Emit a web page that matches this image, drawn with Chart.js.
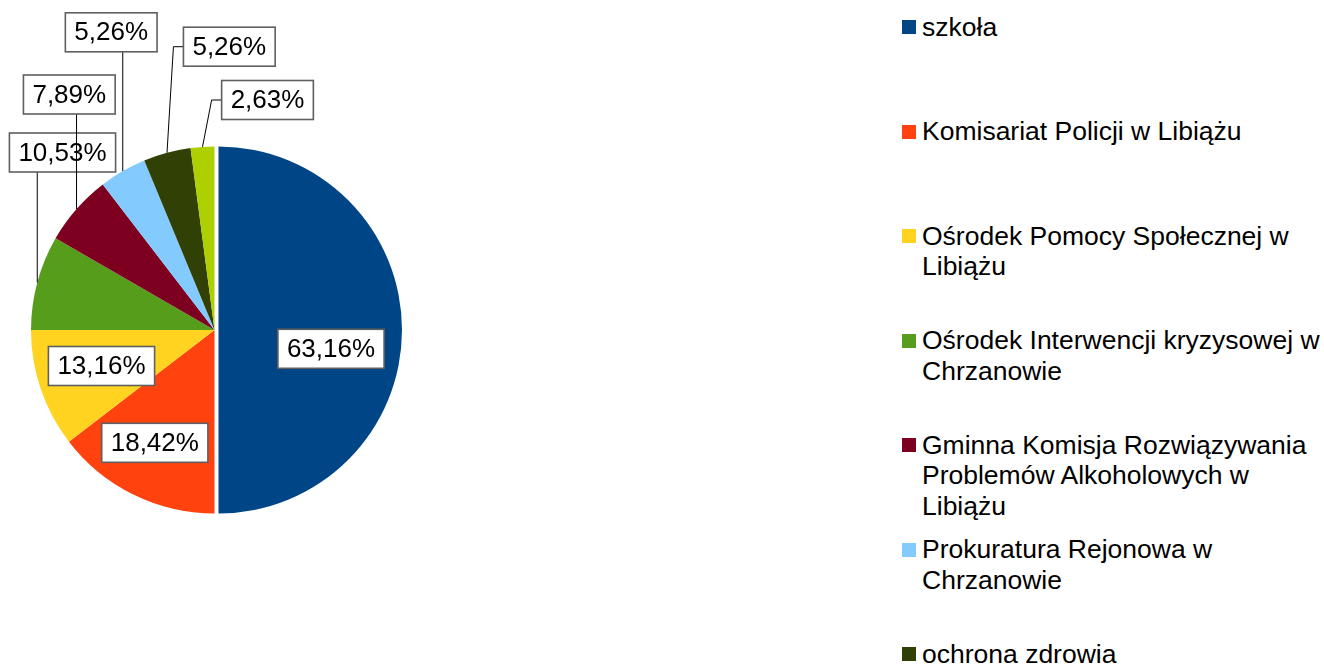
<!DOCTYPE html>
<html lang="pl">
<head>
<meta charset="utf-8">
<title>Wykres kołowy</title>
<script src="https://cdn.jsdelivr.net/npm/chart.js@4.4.1/dist/chart.umd.min.js"></script>
<style>
    html, body { margin: 0; padding: 0; width: 1324px; height: 664px; overflow: hidden; background: #fff; }
    body { font-family: "Liberation Sans", Arial, sans-serif; position: relative; }
    #pieBox { position: absolute; left: 0; top: 0; width: 429px; height: 660px; }
    #legend { position: absolute; left: 902px; top: 0; width: 422px; height: 664px; overflow: hidden; }
    .item { position: absolute; left: 0; display: flex; align-items: flex-start; font-size: 26.5px; line-height: 30.5px; color: #000; white-space: nowrap; }
    .sw { width: 14px; height: 14px; margin-top: 8.5px; margin-right: 6px; flex: none; }
</style>
</head>
<body>
<div id="pieBox"><canvas id="pieChart"></canvas></div>
<div id="legend"></div>

<script>
// categories (multi-line entries are wrapped as in the legend)
const categories = [
    'szkoła',
    'Komisariat Policji w Libiążu',
    ['Ośrodek Pomocy Społecznej w', 'Libiążu'],
    ['Ośrodek Interwencji kryzysowej w', 'Chrzanowie'],
    ['Gminna Komisja Rozwiązywania', 'Problemów Alkoholowych w', 'Libiążu'],
    ['Prokuratura Rejonowa w', 'Chrzanowie'],
    'ochrona zdrowia',
    'inne'
];
const counts = [24, 7, 5, 4, 3, 2, 2, 1];
const percentLabels = ['63,16%', '18,42%', '13,16%', '10,53%', '7,89%', '5,26%', '5,26%', '2,63%'];
const colors = ['#004586', '#ff420e', '#ffd320', '#579d1c', '#7e0021', '#83caff', '#314004', '#aecf00'];

// slice shift (px) and label box placement relative to the slice centre
const explode = [4, 0, 0, 0, 0, 0, 0, 0];
const labelBoxes = [
    { dx: 112.5, dy: 18.8 },
    { dx: -59.7, dy: 112.8 },
    { dx: -113, dy: 36 },
    { dx: -152, dy: -177.5, leader: 'down' },
    { dx: -145.2, dy: -235.5, leader: 'down' },
    { dx: -103.3, dy: -297.7, leader: 'down' },
    { dx: 14.8, dy: -283.3, leader: 'left' },
    { dx: 53, dy: -230, leader: 'left' }
];

// legend
const legend = document.getElementById('legend');
categories.forEach((name, i) => {
    const item = document.createElement('div');
    item.className = 'item';
    item.style.top = (11.75 + i * 104.5) + 'px';
    const sw = document.createElement('span');
    sw.className = 'sw';
    sw.style.background = colors[i];
    const txt = document.createElement('span');
    txt.innerHTML = (Array.isArray(name) ? name : [name]).join('<br>');
    item.appendChild(sw);
    item.appendChild(txt);
    legend.appendChild(item);
});

// shifts exploded slices without growing their radius
const explodePlugin = {
    id: 'explodeSlices',
    beforeDatasetsDraw(chart) {
        chart.getDatasetMeta(0).data.forEach((arc, i) => {
            if (!explode[i] || arc._shiftWrapped) return;
            const orig = arc.draw.bind(arc);
            arc.draw = function (ctx) {
                const mid = (this.startAngle + this.endAngle) / 2;
                ctx.save();
                ctx.translate(Math.cos(mid) * explode[i], Math.sin(mid) * explode[i]);
                orig(ctx);
                ctx.restore();
            };
            arc._shiftWrapped = true;
        });
    }
};

const boxLabelPlugin = {
    id: 'boxLabels',
    afterDatasetsDraw(chart) {
        const ctx = chart.ctx;
        const arcs = chart.getDatasetMeta(0).data;
        ctx.save();
        ctx.font = '26px "Liberation Sans", Arial, sans-serif';
        ctx.textAlign = 'center';
        ctx.textBaseline = 'middle';
        arcs.forEach((arc, i) => {
            const p = labelBoxes[i];
            const { x, y, startAngle, endAngle, outerRadius } = arc.getProps(['x', 'y', 'startAngle', 'endAngle', 'outerRadius'], true);
            const mid = (startAngle + endAngle) / 2;
            const cx = x + Math.cos(mid) * explode[i];
            const cy = y + Math.sin(mid) * explode[i];
            const bx = cx + p.dx;
            const by = cy + p.dy;
            const w = ctx.measureText(percentLabels[i]).width + 18;
            const h = 39;
            const left = bx - w / 2, top = by - h / 2;

            if (p.leader) {
                const ax = cx + Math.cos(mid) * outerRadius;
                const ay = cy + Math.sin(mid) * outerRadius;
                ctx.strokeStyle = '#000';
                ctx.lineWidth = 1;
                ctx.beginPath();
                if (p.leader === 'down') {
                    ctx.moveTo(ax, ay);
                    ctx.lineTo(ax, top + h);
                } else {
                    ctx.moveTo(ax, ay);
                    ctx.lineTo(left - 10, by);
                    ctx.lineTo(left, by);
                }
                ctx.stroke();
            }

            ctx.fillStyle = '#fff';
            ctx.fillRect(left, top, w, h);
            ctx.strokeStyle = '#5f5f5f';
            ctx.lineWidth = 1.6;
            ctx.strokeRect(left, top, w, h);
            ctx.fillStyle = '#000';
            ctx.fillText(percentLabels[i], bx, by + 1);
        });
        ctx.restore();
    }
};

new Chart(document.getElementById('pieChart'), {
    type: 'pie',
    data: {
        labels: categories,
        datasets: [{
            data: counts,
            backgroundColor: colors,
            borderWidth: 0
        }]
    },
    options: {
        responsive: true,
        maintainAspectRatio: false,
        animation: false,
        radius: 183.5,
        layout: { padding: 0 },
        plugins: {
            legend: { display: false },
            tooltip: { enabled: false }
        }
    },
    plugins: [explodePlugin, boxLabelPlugin]
});
</script>
</body>
</html>
